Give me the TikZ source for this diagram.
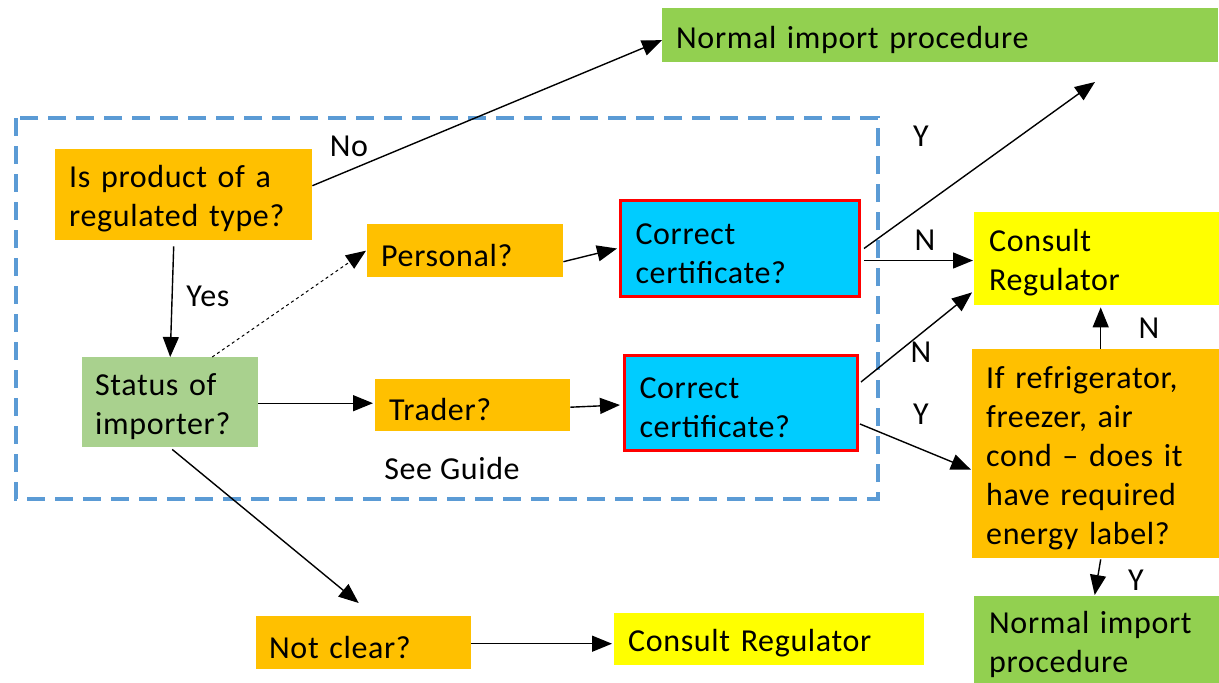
\documentclass[tikz,border=0pt]{standalone}
\usepackage{fontspec}
\setmainfont[LetterSpace=2]{Carlito}
\usetikzlibrary{arrows.meta,calc}
\definecolor{orng}{HTML}{FFC000}
\definecolor{grn}{HTML}{92D050}
\definecolor{lgrn}{HTML}{A9D18E}
\definecolor{cyn}{HTML}{00CCFF}
\definecolor{ylw}{HTML}{FFFF00}
\definecolor{dblue}{HTML}{5B9BD5}
\tikzset{
  box/.style={anchor=north west, inner xsep=14pt, inner ysep=0pt, align=left, font=\fontsize{32}{39}\selectfont, execute at begin node={\rule{0pt}{31pt}}},
  certbox/.style={box, fill=cyn, draw=red, line width=3pt, inner xsep=15pt},
  arr/.style={line width=1.4pt, -{Triangle[length=20pt,width=16pt]}},
  lbl/.style={font=\fontsize{32}{34}\selectfont, inner sep=0pt}
}
\begin{document}
\begin{tikzpicture}[x=1pt,y=-1pt]
\useasboundingbox (0,0) rectangle (1219,683);
% dashed frame
\draw[dblue, line width=4pt, dash pattern=on 18pt off 10pt] (16,118) rectangle (878,499);
% nodes
\node[box, fill=grn, text width=528pt, minimum height=54pt] (nip) at (662,8) {Normal import procedure};
\node[box, fill=orng, text width=229pt, minimum height=91pt] (q1) at (55,149) {Is product of a\\regulated type?};
\node[box, fill=orng, text width=168pt, minimum height=53pt] (pers) at (367,224) {Personal?};
\node[certbox, text width=209pt, minimum height=96pt] (cert1) at (619,199) {Correct\\certificate?};
\node[box, fill=lgrn, text width=150pt, minimum height=90pt, inner xsep=13pt] (status) at (82,357) {Status of\\importer?};
\node[box, fill=orng, text width=167pt, minimum height=52pt] (trader) at (375,379) {Trader?};
\node[certbox, text width=203pt, minimum height=95pt] (cert2) at (623,354) {Correct\\certificate?};
\node[box, fill=ylw, text width=215pt, minimum height=93pt, inner xsep=15pt] (cons1) at (974,212) {Consult\\Regulator};
\node[box, fill=orng, text width=219pt, minimum height=209pt] (ifb) at (972,349) {If refrigerator,\\freezer, air\\cond -- does it\\have required\\energy label?};
\node[box, fill=grn, text width=215pt, minimum height=87pt, inner xsep=15pt] (nip2) at (974,596) {Normal import\\procedure};
\node[box, fill=orng, text width=189pt, minimum height=53pt, inner xsep=13pt] (nc) at (256,616) {Not clear?};
\node[box, fill=ylw, text width=282pt, minimum height=52pt] (cons2) at (614,613) {Consult Regulator};
\coordinate (yend) at (1095,82);
% connectors
\draw[arr] ([yshift=9pt]q1.east) -- ([yshift=-5pt]nip.west);
\draw[arr] ([xshift=-10pt,yshift=-6pt]q1.south) -- (status.north);
\draw[arr, dashed, line width=1pt] ([xshift=42pt]status.north) -- ([xshift=-1pt]pers.west);
\draw[arr] ([yshift=-11pt]pers.east) -- ([xshift=-2pt]cert1.west);
\draw[arr] ([yshift=-1pt]status.east) -- ([xshift=-2pt,yshift=-1pt]status.east -| trader.west);
\draw[arr] ([yshift=-2pt]trader.east) -- ([xshift=-3pt,yshift=-2pt]cert2.west);
\draw[arr] ([xshift=3pt]cert1.east) -- (yend);
\draw[arr] ([xshift=3pt,yshift=-12pt]cert1.east) -- ([xshift=-1pt,yshift=-12pt]cert1.east -| cons1.west);
\draw[arr] ([xshift=2pt,yshift=21pt]cert2.east) -- ([xshift=-2pt,yshift=13pt]cons1.south west);
\draw[arr] ([xshift=1pt,yshift=-21pt]cert2.east) -- ([xshift=-1pt,yshift=-16pt]ifb.west);
\draw[arr] ([xshift=5pt]ifb.north) -- ([xshift=5pt,yshift=-2pt]ifb.north |- cons1.south);
\draw[arr] ([xshift=5pt,yshift=-1pt]ifb.south) -- ([xshift=-2pt,yshift=1pt]nip2.north);
\draw[arr] ([xshift=2pt,yshift=-2pt]status.south) -- ([xshift=-5pt,yshift=13pt]nc.north);
\draw[arr] ([yshift=-1pt]nc.east) -- ([xshift=-2pt,yshift=-1pt]nc.east -| cons2.west);
% labels
\node[lbl] (lno) at (349,146) {No};
\node[lbl] (lyes) at (208,296) {Yes};
\node[lbl] (ly1) at (921,136) {Y};
\node[lbl] (ln1) at (925,240) {N};
\node[lbl] (ln2) at (921,352) {N};
\node[lbl] (ly2) at (921,414) {Y};
\node[lbl] (ln3) at (1149,328) {N};
\node[lbl] (ly3) at (1136,580) {Y};
\node[lbl] (lguide) at (452,469) {See Guide};
\end{tikzpicture}
\end{document}
